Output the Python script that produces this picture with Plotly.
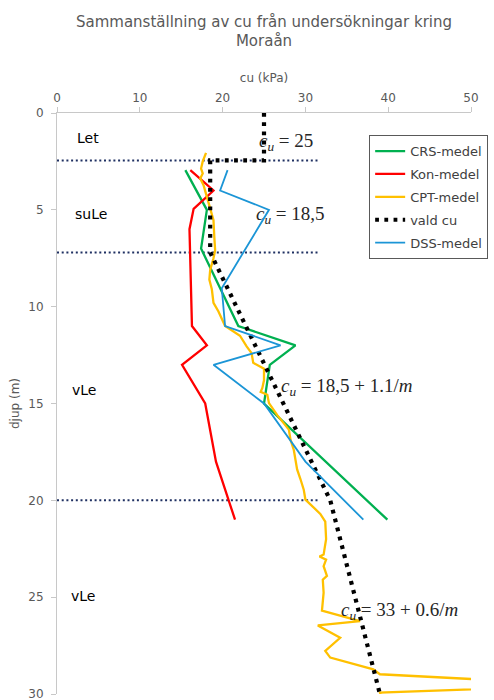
import plotly.graph_objects as go

# Undrained shear strength profiles (cu in kPa vs depth in m)
crs_depth = [2.95, 5.0, 7.0, 11.0, 12.0, 13.0, 15.0, 21.0]
crs_cu = [15.5, 18.1, 17.4, 21.9, 28.8, 25.7, 25.0, 39.9]

kon_depth = [2.95, 4.0, 4.95, 6.0, 11.0, 12.0, 13.0, 15.0, 18.0, 21.0]
kon_cu = [16.1, 18.9, 16.5, 16.0, 16.3, 18.1, 15.1, 17.9, 19.2, 21.5]

cpt_depth = [2.06, 2.5, 2.87, 3.12, 3.38, 3.73, 4.33, 4.93, 5.53, 6.4, 7.08, 7.5, 8.1, 8.6,
             9.1, 9.8, 10.25, 11.0, 11.5, 12.05, 12.4, 12.9, 13.2, 13.8, 14.2, 14.4, 14.55,
             14.98, 15.6, 16.35, 16.87, 17.4, 18.4, 18.9, 19.45, 19.96, 20.2, 20.7, 21.1,
             22.0, 22.8, 22.9, 23.06, 23.4, 23.9, 24.1, 24.77, 25.7, 26.24, 26.46, 27.1,
             27.78, 28.12, 28.73, 28.98, 29.54, 29.93, 30.3]
cpt_cu = [18.0, 17.6, 17.4, 17.6, 17.3, 17.7, 18.1, 18.5, 18.9, 19.0, 19.1, 18.9, 18.5, 18.4,
          18.7, 18.9, 19.5, 20.3, 22.1, 22.9, 23.5, 23.7, 25.0, 25.0, 24.8, 24.6, 25.4,
          25.6, 26.6, 28.0, 28.2, 28.6, 29.0, 29.4, 29.8, 30.0, 30.6, 31.8, 32.4,
          32.5, 32.2, 31.7, 32.5, 32.2, 32.6, 32.1, 32.2, 32.0, 36.6, 31.5, 34.2,
          32.4, 33.0, 38.2, 39.0, 64.0, 39.0, 39.3]

vald_depth = [0.0, 2.45, 2.45, 7.2, 20.0, 30.0]
vald_cu = [25.0, 25.0, 18.5, 18.5, 33.0, 39.0]

dss_depth = [2.95, 4.0, 5.0, 9.05, 11.0, 12.0, 13.0, 15.0, 18.0, 21.0]
dss_cu = [20.6, 19.7, 25.6, 19.9, 20.3, 27.0, 18.9, 25.0, 30.0, 37.0]

# Layer boundaries and the cu range they are drawn across
boundary_depths = [2.45, 7.2, 20.0]
boundary_cu = [0.0, 31.6]

layer_names = ["Let", "suLe", "vLe", "vLe"]
layer_depths = [1.3, 5.2, 14.3, 24.95]
layer_cu = [2.2, 1.9, 1.6, 1.4]

formula_texts = [
    "<i>c</i><sub><i>u</i></sub> = 25",
    "<i>c</i><sub><i>u</i></sub> = 18,5",
    "<i>c</i><sub><i>u</i></sub> = 18,5 + 1.1/<i>m</i>",
    "<i>c</i><sub><i>u</i></sub> = 33 + 0.6/<i>m</i>",
]
formula_depths = [1.5, 5.27, 14.15, 25.7]
formula_cu = [24.2, 23.8, 26.8, 34.0]

FONT = "DejaVu Sans"
GREY = "#595959"

fig = go.Figure()

for d in boundary_depths:
    fig.add_trace(go.Scatter(
        x=boundary_cu, y=[d, d], mode="lines", showlegend=False, hoverinfo="skip",
        line=dict(color="#1f3062", width=2, dash="2px,2.7px"),
    ))

series = [
    ("CRS-medel", crs_cu, crs_depth, "#00b050", 2.3, "solid"),
    ("Kon-medel", kon_cu, kon_depth, "#ff0000", 2.3, "solid"),
    ("CPT-medel", cpt_cu, cpt_depth, "#ffc000", 2.3, "solid"),
    ("vald cu", vald_cu, vald_depth, "#000000", 4.2, "3.8px,5.4px"),
    ("DSS-medel", dss_cu, dss_depth, "#1b95d6", 1.8, "solid"),
]
for name, xs, ys, color, width, dash in series:
    fig.add_trace(go.Scatter(
        x=xs, y=ys, mode="lines", name=name, legendgroup=name,
        line=dict(color=color, width=width, dash=dash),
    ))

for name, d, c in zip(layer_names, layer_depths, layer_cu):
    fig.add_annotation(x=c, y=d, text=name, showarrow=False, xanchor="left",
                       yanchor="middle", font=dict(family=FONT, size=14, color="#000000"))

for t, d, c in zip(formula_texts, formula_depths, formula_cu):
    fig.add_annotation(x=c, y=d, text=t, showarrow=False, xanchor="left",
                       yanchor="middle",
                       font=dict(family="Liberation Serif", size=19, color="#262626"))

fig.update_layout(
    width=494, height=700,
    margin=dict(l=57, r=23, t=113, b=6, autoexpand=False),
    paper_bgcolor="white", plot_bgcolor="white",
    font=dict(family=FONT, color=GREY),
    title=dict(
        text="Sammanställning av cu från undersökningar kring<br>Moraån",
        x=0.5, xanchor="center", xref="paper",
        y=0.962, yanchor="top", yref="container",
        font=dict(family=FONT, size=15, color=GREY),
    ),
    legend=dict(
        x=0.754, xanchor="left", y=0.962, yanchor="top",
        bgcolor="white", bordercolor="#595959", borderwidth=1,
        font=dict(family=FONT, size=13, color="#404040"),
        tracegroupgap=3, traceorder="grouped",
    ),
    showlegend=True,
)

fig.update_xaxes(
    side="top", range=[0, 50], tickvals=[0, 10, 20, 30, 40, 50],
    showgrid=False, zeroline=False, showline=True, linecolor="#c8c8c8", linewidth=1,
    ticks="outside", ticklen=5, tickcolor="#c8c8c8", automargin=False,
    tickfont=dict(family=FONT, size=12, color=GREY),
    title=dict(text="cu (kPa)", font=dict(family=FONT, size=12, color=GREY), standoff=6),
)
fig.update_yaxes(
    range=[30, 0], tickvals=[0, 5, 10, 15, 20, 25, 30],
    showgrid=False, zeroline=False, showline=True, linecolor="#c8c8c8", linewidth=1,
    ticks="outside", ticklen=5, tickcolor="#c8c8c8", ticklabelstandoff=5,
    ticklabeloverflow="allow", automargin=False,
    tickfont=dict(family=FONT, size=12, color=GREY),
    title=dict(text="djup (m)", font=dict(family=FONT, size=12, color=GREY), standoff=6),
)

fig.write_html("out.html")
